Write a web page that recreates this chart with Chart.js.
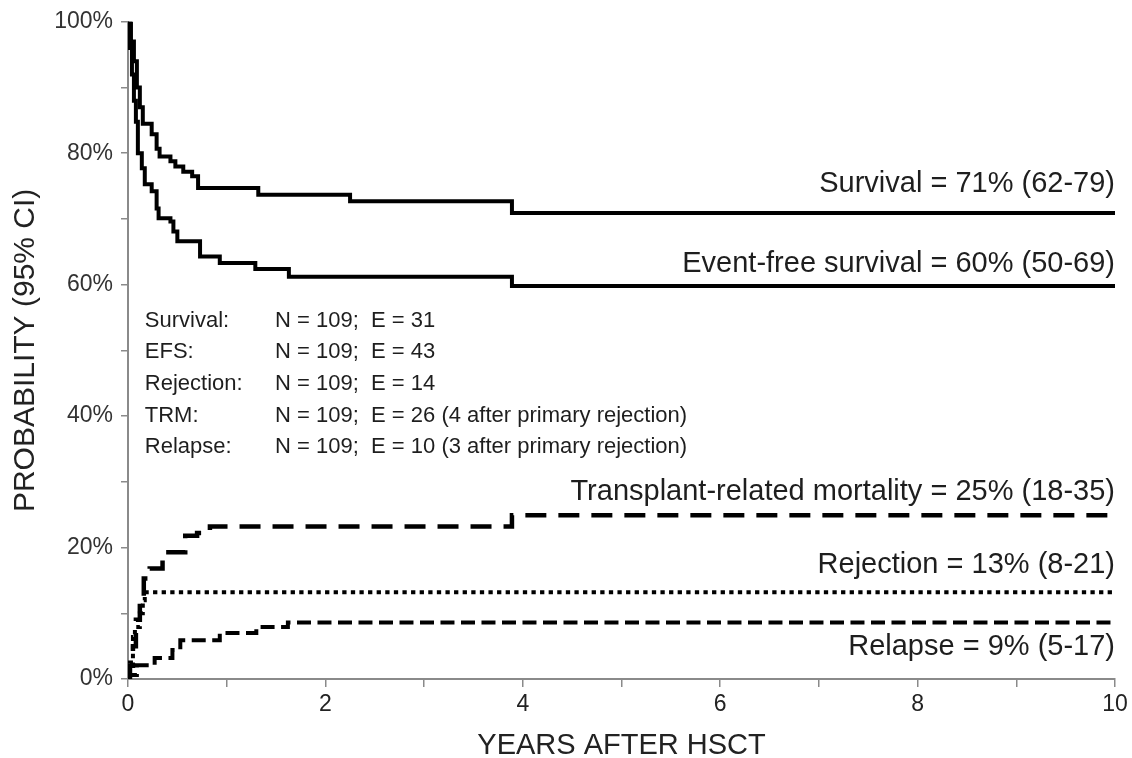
<!DOCTYPE html>
<html>
<head>
<meta charset="utf-8">
<title>Outcome after HSCT</title>
<script src="https://cdn.jsdelivr.net/npm/chart.js@4.4.1/dist/chart.umd.min.js"></script>
<style>
  html, body { margin: 0; padding: 0; background: #fff; }
  #wrap { width: 1132px; height: 758px; }
</style>
</head>
<body>
<div id="wrap"><canvas id="myChart" width="1132" height="758"></canvas></div>
<script>
'use strict';

// step curves: years after HSCT and probability in %
let survivalYears = [0, 0.03, 0.06, 0.09, 0.12, 0.15, 0.24, 0.29, 0.32, 0.43, 0.48, 0.56, 0.65, 0.71, 1.32, 2.25, 3.89, 10];
let survivalPct = [100, 97, 94, 90, 87, 84.5, 82.9, 80.7, 79.5, 78.8, 78, 77.2, 76.5, 74.7, 73.7, 72.7, 70.9, 70.9];

let efsYears = [0, 0.02, 0.04, 0.06, 0.08, 0.1, 0.14, 0.17, 0.24, 0.29, 0.31, 0.43, 0.46, 0.5, 0.73, 0.93, 1.29, 1.63, 3.89, 10];
let efsPct = [100, 96, 92, 88, 84.8, 80, 77.7, 75.3, 74.2, 71.6, 70.1, 69.6, 68.1, 66.6, 64.3, 63.3, 62.4, 61.2, 59.8, 59.8];

let trmYears = [0, 0.02, 0.05, 0.08, 0.12, 0.16, 0.22, 0.35, 0.58, 0.7, 0.83, 3.89, 10];
let trmPct = [0, 2, 5, 9, 12, 15.3, 16.8, 19.3, 21.8, 22.2, 23.2, 24.9, 24.9];

let rejectionYears = [0, 0.02, 0.05, 0.07, 0.12, 0.15, 0.17, 10];
let rejectionPct = [0, 2.5, 6.4, 7.9, 10, 12, 13.2, 13.2];

let relapseYears = [0, 0.02, 0.09, 0.27, 0.45, 0.53, 0.93, 1.3, 1.62, 10];
let relapsePct = [0, 0.6, 2.1, 3.2, 4.4, 5.9, 7.0, 7.9, 8.6, 8.6];

let curveLabels = [
  'Survival = 71% (62-79)',
  'Event-free survival = 60% (50-69)',
  'Transplant-related mortality = 25% (18-35)',
  'Rejection = 13% (8-21)',
  'Relapse = 9% (5-17)'
];

let countNames = ['Survival:', 'EFS:', 'Rejection:', 'TRM:', 'Relapse:'];
let countValues = [
  'N = 109;  E = 31',
  'N = 109;  E = 43',
  'N = 109;  E = 14',
  'N = 109;  E = 26 (4 after primary rejection)',
  'N = 109;  E = 10 (3 after primary rejection)'
];

let xTickMax = 10;
let yTickMax = 100;

function toPoints(xs, ys){
  let pts = [];
  for (let i=0; i<xs.length; i++){
    pts.push({x: xs[i], y: ys[i]});
  }
  return pts;
}

const FONT = '"Liberation Sans", Arial, sans-serif';

// text on the plot: curve labels at the right and the N/E table
const kmText = {
  id: 'kmText',
  afterDraw(chart){
    let ctx = chart.ctx;
    let xs = chart.scales.x;
    let ys = chart.scales.y;
    let labelAt = [75.3, 63.2, 28.5, 17.4, 4.8];
    ctx.save();
    ctx.fillStyle = '#1e1e1e';
    ctx.textBaseline = 'middle';
    ctx.textAlign = 'right';
    ctx.font = '29px ' + FONT;
    for (let i=0; i<curveLabels.length; i++){
      ctx.fillText(curveLabels[i], xs.right, ys.getPixelForValue(labelAt[i]));
    }
    ctx.textAlign = 'left';
    ctx.font = '22px ' + FONT;
    for (let i=0; i<countNames.length; i++){
      let y = ys.getPixelForValue(54.5 - i * 4.8);
      ctx.fillText(countNames[i], xs.getPixelForValue(0.17), y);
      ctx.fillText(countValues[i], xs.getPixelForValue(1.49), y);
    }
    ctx.restore();
  }
};

function lineSet(label, pts, width, dash){
  return {
    label: label,
    data: pts,
    borderColor: '#000',
    backgroundColor: '#000',
    borderWidth: width,
    borderDash: dash,
    stepped: true,
    pointRadius: 0,
    fill: false,
    borderCapStyle: 'butt',
    borderJoinStyle: 'miter'
  };
}

let ctx = document.getElementById('myChart').getContext('2d');
new Chart(ctx, {
  type: 'line',
  data: {
    datasets: [
      lineSet('Survival', toPoints(survivalYears, survivalPct), 4, []),
      lineSet('EFS', toPoints(efsYears, efsPct), 4, []),
      lineSet('TRM', toPoints(trmYears, trmPct), 4.5, [21, 12]),
      lineSet('Rejection', toPoints(rejectionYears, rejectionPct), 4, [4.3, 4.3]),
      lineSet('Relapse', toPoints(relapseYears, relapsePct), 4, [14, 6.5])
    ]
  },
  options: {
    responsive: false,
    animation: false,
    devicePixelRatio: 1,
    layout: { padding: { top: 20, right: 17, left: 0, bottom: 0 } },
    plugins: {
      legend: { display: false },
      tooltip: { enabled: false }
    },
    scales: {
      x: {
        type: 'linear',
        min: 0,
        max: xTickMax,
        afterFit: function(s){ s.height = 79; },
        border: { color: '#8a8a8a', width: 2 },
        grid: { drawOnChartArea: false, drawTicks: true, tickLength: 8, color: '#8a8a8a', lineWidth: 1.5 },
        ticks: {
          stepSize: 1,
          padding: 4,
          maxRotation: 0,
          autoSkip: false,
          color: '#222',
          font: { family: FONT, size: 23 },
          callback: function(v){ return v % 2 === 0 ? String(v) : ''; }
        },
        title: {
          display: true,
          text: 'YEARS AFTER HSCT',
          color: '#222',
          font: { family: FONT, size: 29, lineHeight: 0.8 },
          padding: { top: 0, bottom: 0 }
        }
      },
      y: {
        min: 0,
        max: yTickMax,
        afterFit: function(s){ s.width = 128; },
        border: { color: '#8a8a8a', width: 2 },
        grid: { drawOnChartArea: false, drawTicks: true, tickLength: 7, color: '#8a8a8a', lineWidth: 1.5 },
        ticks: {
          stepSize: 10,
          padding: 8,
          autoSkip: false,
          color: '#333',
          font: { family: FONT, size: 23 },
          callback: function(v){ return v % 20 === 0 ? v + '%' : ''; }
        },
        title: {
          display: true,
          text: 'PROBABILITY (95% CI)',
          color: '#222',
          font: { family: FONT, size: 30, lineHeight: 1.2 },
          padding: { top: 8, bottom: 0 }
        }
      }
    }
  },
  plugins: [kmText]
});
</script>
</body>
</html>
